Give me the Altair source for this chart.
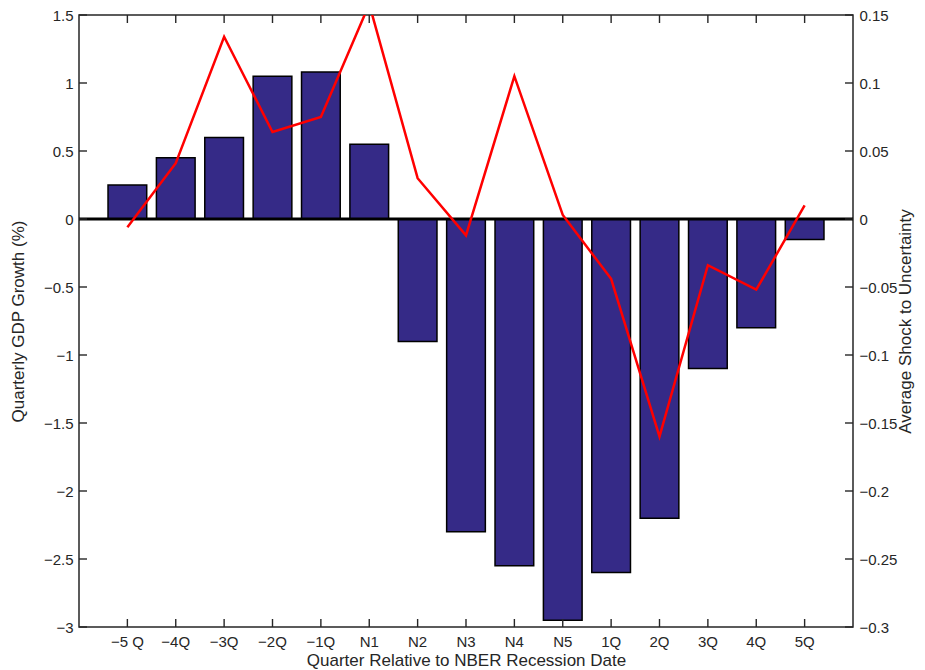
import altair as alt
import pandas as pd

QUARTERS = ["\u22125 Q", "\u22124Q", "\u22123Q", "\u22122Q", "\u22121Q", "N1", "N2", "N3", "N4", "N5",
            "1Q", "2Q", "3Q", "4Q", "5Q"]
GDP_GROWTH = [0.25, 0.45, 0.6, 1.05, 1.08, 0.55, -0.9, -2.3, -2.55, -2.95, -2.6, -2.2, -1.1, -0.8, -0.15]
UNC_SHOCK = [-0.006, 0.041, 0.134, 0.064, 0.075, 0.158, 0.030, -0.012, 0.105, 0.003,
             -0.044, -0.160, -0.034, -0.052, 0.010]
LEFT_TICKS = [-3, -2.5, -2, -1.5, -1, -0.5, 0, 0.5, 1, 1.5]
RIGHT_TICKS = [-0.3, -0.25, -0.2, -0.15, -0.1, -0.05, 0, 0.05, 0.1, 0.15]

W, H = 774, 612
FONT = "Liberation Sans"
TXT = "#262626"

df = pd.DataFrame({"q": QUARTERS, "gdp": GDP_GROWTH, "unc": UNC_SHOCK})
lt = pd.DataFrame({"gdp": LEFT_TICKS})
rt = pd.DataFrame({"unc": RIGHT_TICKS})
qd = pd.DataFrame({"q": QUARTERS})
zd = pd.DataFrame({"gdp": [0]})

xscale = alt.Scale(domain=QUARTERS, paddingInner=0.2, paddingOuter=0.6)
lscale = alt.Scale(domain=[-3, 1.5], nice=False, zero=False)
rscale = alt.Scale(domain=[-0.3, 0.15], nice=False, zero=False)

xaxis = alt.Axis(title="Quarter Relative to NBER Recession Date", labelAngle=0, ticks=False,
                 tickSize=0, domain=False, grid=False, labelPadding=7, titlePadding=3,
                 labelFontSize=15, titleFontSize=17, labelColor=TXT, titleColor=TXT,
                 labelFont=FONT, titleFont=FONT, titleFontWeight="normal")
laxis = alt.Axis(title="Quarterly GDP Growth (%)", values=LEFT_TICKS, format="~g",
                 ticks=False, tickSize=0, domain=False, grid=False, labelPadding=6,
                 titlePadding=16, labelFontSize=15, titleFontSize=17,
                 labelColor=TXT, titleColor=TXT, labelFont=FONT, titleFont=FONT,
                 titleFontWeight="normal")
raxis = alt.Axis(orient="right", title="Average Shock to Uncertainty", values=RIGHT_TICKS,
                 format="~g", ticks=False, tickSize=0, domain=False, grid=False,
                 labelPadding=6, titlePadding=1, titleAngle=270, titleBaseline="top",
                 labelFontSize=15, titleFontSize=17, labelColor=TXT, titleColor=TXT,
                 labelFont=FONT, titleFont=FONT, titleFontWeight="normal")

X = alt.X("q:N", sort=QUARTERS, scale=xscale, axis=xaxis)
YL = alt.Y("gdp:Q", scale=lscale, axis=laxis)
YR = alt.Y("unc:Q", scale=rscale, axis=raxis)

TICKC = TXT
TICKW = 1.4

bars = alt.Chart(df).mark_bar(color="#352a87", stroke="#000000", strokeWidth=1.5).encode(x=X, y=YL)
zero = alt.Chart(zd).mark_rule(color="#000000", strokeWidth=3).encode(y=YL)
lticks = alt.Chart(lt).mark_rule(color=TICKC, strokeWidth=TICKW).encode(
    y=YL, x=alt.value(0), x2=alt.value(8))
bticks = alt.Chart(qd).mark_rule(color=TICKC, strokeWidth=TICKW).encode(
    x=X, y=alt.value(H - 8), y2=alt.value(H))
tticks = alt.Chart(qd).mark_rule(color=TICKC, strokeWidth=TICKW).encode(
    x=X, y=alt.value(0), y2=alt.value(8))

line = alt.Chart(df).mark_line(color="#ff0000", strokeWidth=2.5, clip=True).encode(x=X, y=YR)
rticks = alt.Chart(rt).mark_rule(color=TICKC, strokeWidth=TICKW).encode(
    y=YR, x=alt.value(W - 8), x2=alt.value(W))

left = alt.layer(bars, zero, lticks, bticks, tticks)
right = alt.layer(line, rticks)

chart = alt.layer(left, right).resolve_scale(y="independent").properties(
    width=W, height=H,
    autosize=alt.AutoSizeParams(type="none"),
    padding={"left": 71, "top": 7, "right": 64, "bottom": 43},
    background="white",
).configure_view(stroke=TXT, strokeWidth=1.5)

chart.save("out.html", embed_options={"renderer": "svg", "actions": False})
